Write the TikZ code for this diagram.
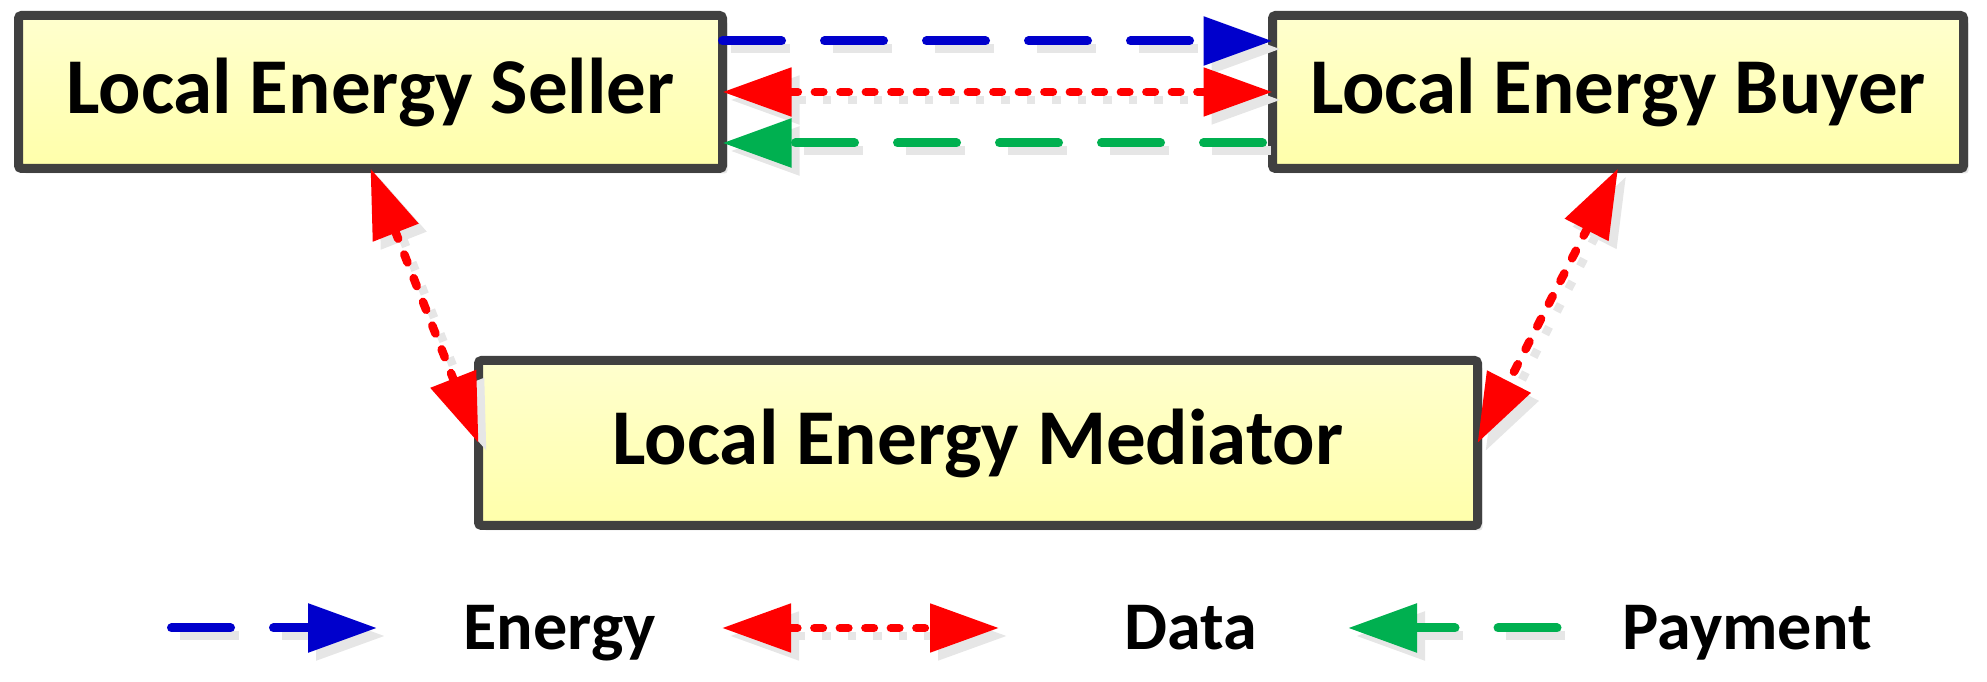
\documentclass[tikz,border=0pt]{standalone}
\usepackage{fontspec}
\setmainfont{Carlito}
\usepackage{xcolor}
\definecolor{boxline}{RGB}{64,64,64}
\definecolor{boxtop}{RGB}{255,255,206}
\definecolor{boxbottom}{RGB}{255,255,170}
\definecolor{energy}{RGB}{0,0,204}
\definecolor{data}{RGB}{255,0,0}
\definecolor{payment}{RGB}{0,176,80}
\definecolor{shadowgray}{RGB}{230,230,230}
\usepackage{tikz}
\usetikzlibrary{arrows.meta, shadows}
\tikzstyle{party} = [
    rectangle, text centered,
    minimum height=1.53cm,
    draw=boxline, line width=0.09cm,
    top color=boxtop, bottom color=boxbottom,
    rounded corners=0.03cm, outer sep=0pt,
    font=\bfseries\fontsize{22.5}{27}\selectfont,
    drop shadow={shadow xshift=0.05cm, shadow yshift=-0.05cm, fill=shadowgray, opacity=1},
]
\tikzstyle{flow} = [
    line width=0.09cm, line cap=round,
    >={Triangle[length=0.69cm, width=0.47cm]},
]
\tikzstyle{dashes} = [line width=0.09cm, dash pattern=on 0.59cm off 0.43cm]
\tikzstyle{dots} = [line width=0.085cm, dash pattern=on 0.085cm off 0.17cm]
\tikzstyle{energyflow} = [
    flow, ->, draw=energy, dashes,
    preaction={draw=shadowgray, ->, dashes, transform canvas={shift={(0.08cm,-0.08cm)}}},
]
\tikzstyle{dataflow} = [
    flow, <->, draw=data, dots,
    preaction={draw=shadowgray, <->, dots, transform canvas={shift={(0.08cm,-0.08cm)}}},
]
\tikzstyle{paymentflow} = [
    flow, ->, draw=payment, dashes,
    preaction={draw=shadowgray, ->, dashes, transform canvas={shift={(0.08cm,-0.08cm)}}},
]
\tikzstyle{legend} = [
    anchor=base west, inner sep=0pt,
    font=\bfseries\fontsize{19.4}{23}\selectfont,
]

\begin{document}
\begin{tikzpicture}
    \useasboundingbox (0,0) rectangle (19.87,6.82);

    % boxes
    \node (seller) at (3.705, 5.90) [party, minimum width=7.04cm] {Local Energy Seller};
    \node (buyer) at (16.18, 5.90) [party, minimum width=6.91cm] {Local Energy Buyer};
    \node (mediator) at (9.78, 2.39) [party, minimum width=9.99cm, minimum height=1.65cm] {Local Energy Mediator};

    % arrows
    \draw [energyflow] ([yshift=0.51cm]seller.east) to ([yshift=0.51cm]buyer.west);
    \draw [dataflow] (seller.east) to (buyer.west);
    \draw [paymentflow, shorten <=0.1cm] ([yshift=-0.51cm]buyer.west) to ([yshift=-0.51cm]seller.east);
    \draw [dataflow] (seller.south) to (mediator.west);
    \draw [dataflow] (buyer.south) to (mediator.east);

    % legend
    \coordinate (energyA) at (1.715, 0.54);
    \coordinate (energyB) at (3.77, 0.54);
    \coordinate (dataA) at (7.22, 0.54);
    \coordinate (dataB) at (9.99, 0.54);
    \coordinate (paymentA) at (15.57, 0.54);
    \coordinate (paymentB) at (13.48, 0.54);
    \draw [energyflow] (energyA) to (energyB);
    \draw [dataflow] (dataA) to (dataB);
    \draw [paymentflow] (paymentA) to (paymentB);
    \node (energytext) at (4.63, 0.32) [legend] {Energy};
    \node (datatext) at (11.24, 0.32) [legend] {Data};
    \node (paymenttext) at (16.22, 0.32) [legend] {Payment};
\end{tikzpicture}
\end{document}
